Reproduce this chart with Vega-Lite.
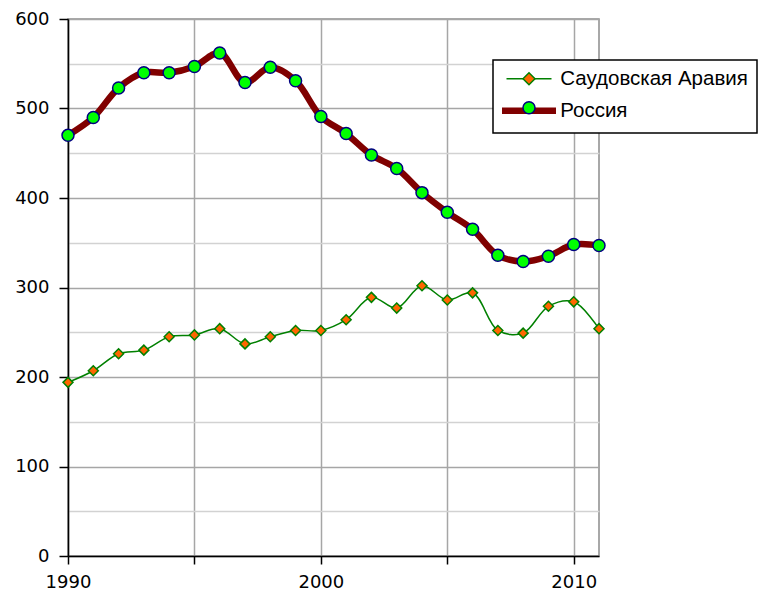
{
  "$schema": "https://vega.github.io/schema/vega-lite/v6.json",
  "width": 531,
  "height": 537,
  "autosize": {"type": "none"},
  "padding": {"left": 68, "top": 19, "right": 161, "bottom": 39},
  "background": "white",
  "config": {
    "view": {"stroke": "#8c8c8c", "strokeWidth": 1.5},
    "axis": {"labelFont": "DejaVu Sans", "labelFontSize": 17, "labelColor": "black", "title": null},
    "legend": {"strokeWidth": 1.5}
  },
  "data": {
    "values": [
      {"year": 1990, "series": "Россия", "value": 470},
      {"year": 1991, "series": "Россия", "value": 490},
      {"year": 1992, "series": "Россия", "value": 523},
      {"year": 1993, "series": "Россия", "value": 540},
      {"year": 1994, "series": "Россия", "value": 540},
      {"year": 1995, "series": "Россия", "value": 547},
      {"year": 1996, "series": "Россия", "value": 562},
      {"year": 1997, "series": "Россия", "value": 529},
      {"year": 1998, "series": "Россия", "value": 546},
      {"year": 1999, "series": "Россия", "value": 531},
      {"year": 2000, "series": "Россия", "value": 491},
      {"year": 2001, "series": "Россия", "value": 472},
      {"year": 2002, "series": "Россия", "value": 448},
      {"year": 2003, "series": "Россия", "value": 433},
      {"year": 2004, "series": "Россия", "value": 406},
      {"year": 2005, "series": "Россия", "value": 384},
      {"year": 2006, "series": "Россия", "value": 365},
      {"year": 2007, "series": "Россия", "value": 336},
      {"year": 2008, "series": "Россия", "value": 329},
      {"year": 2009, "series": "Россия", "value": 335},
      {"year": 2010, "series": "Россия", "value": 348},
      {"year": 2011, "series": "Россия", "value": 347},
      {"year": 1990, "series": "Саудовская Аравия", "value": 194},
      {"year": 1991, "series": "Саудовская Аравия", "value": 207},
      {"year": 1992, "series": "Саудовская Аравия", "value": 226},
      {"year": 1993, "series": "Саудовская Аравия", "value": 230},
      {"year": 1994, "series": "Саудовская Аравия", "value": 245},
      {"year": 1995, "series": "Саудовская Аравия", "value": 247},
      {"year": 1996, "series": "Саудовская Аравия", "value": 254},
      {"year": 1997, "series": "Саудовская Аравия", "value": 237},
      {"year": 1998, "series": "Саудовская Аравия", "value": 245},
      {"year": 1999, "series": "Саудовская Аравия", "value": 252},
      {"year": 2000, "series": "Саудовская Аравия", "value": 252},
      {"year": 2001, "series": "Саудовская Аравия", "value": 264},
      {"year": 2002, "series": "Саудовская Аравия", "value": 289},
      {"year": 2003, "series": "Саудовская Аравия", "value": 277},
      {"year": 2004, "series": "Саудовская Аравия", "value": 302},
      {"year": 2005, "series": "Саудовская Аравия", "value": 286},
      {"year": 2006, "series": "Саудовская Аравия", "value": 294},
      {"year": 2007, "series": "Саудовская Аравия", "value": 252},
      {"year": 2008, "series": "Саудовская Аравия", "value": 249},
      {"year": 2009, "series": "Саудовская Аравия", "value": 279},
      {"year": 2010, "series": "Саудовская Аравия", "value": 284},
      {"year": 2011, "series": "Саудовская Аравия", "value": 254}
    ]
  },
  "encoding": {
    "x": {
      "field": "year",
      "type": "quantitative",
      "scale": {"domain": [1990, 2011], "nice": false, "zero": false},
      "axis": {
        "values": [1990, 1995, 2000, 2005, 2010],
        "format": "d",
        "labelExpr": "datum.value % 10 == 0 ? datum.label : ''",
        "labelFont": "DejaVu Sans",
        "labelFontSize": 18,
        "labelFlush": false,
        "labelOverlap": false,
        "labelPadding": 9,
        "tickSize": 8,
        "tickColor": "black",
        "tickWidth": 1.5,
        "domainColor": "black",
        "domainWidth": 1.5,
        "grid": true,
        "gridColor": "#a6a6a6",
        "gridWidth": 1.5
      }
    },
    "y": {
      "field": "value",
      "type": "quantitative",
      "scale": {"domain": [0, 600], "nice": false},
      "axis": {
        "values": [0, 50, 100, 150, 200, 250, 300, 350, 400, 450, 500, 550, 600],
        "labelExpr": "datum.value % 100 == 0 ? datum.label : ''",
        "labelFont": "DejaVu Sans",
        "labelFontSize": 18,
        "labelOverlap": false,
        "labelPadding": 10,
        "tickSize": 9,
        "tickColor": "black",
        "tickWidth": 1.5,
        "tickOpacity": {"condition": {"test": "datum.value % 100 == 0", "value": 1}, "value": 0},
        "domainColor": "black",
        "domainWidth": 1.5,
        "grid": true,
        "gridWidth": 1.5,
        "gridColor": {"condition": {"test": "datum.value % 100 == 0", "value": "#a6a6a6"}, "value": "#d2d2d2"}
      }
    }
  },
  "layer": [
    {
      "mark": {"type": "line", "interpolate": "catmull-rom", "strokeCap": "round", "strokeJoin": "round"},
      "encoding": {
        "color": {
          "field": "series",
          "type": "nominal",
          "scale": {"domain": ["Саудовская Аравия", "Россия"], "range": ["#008000", "#800000"]},
          "legend": {
            "title": null, "orient": "none", "legendX": 425, "legendY": 41,
            "symbolType": "M-4.5,0H4.5", "symbolSize": 144,
            "padding": 8.5, "rowPadding": 8, "symbolOffset": 17.25, "labelOffset": 21,
            "labelFont": "Liberation Sans", "labelFontSize": 20.5, "labelColor": "black", "labelLimit": 400,
            "fillColor": "white", "strokeColor": "black"
          }
        },
        "strokeWidth": {
          "field": "series",
          "type": "nominal",
          "scale": {"domain": ["Саудовская Аравия", "Россия"], "range": [1.5, 6.5]},
          "legend": {
            "title": null, "orient": "none", "legendX": 425, "legendY": 41,
            "symbolType": "M-4.5,0H4.5", "symbolSize": 144,
            "padding": 8.5, "rowPadding": 8, "symbolOffset": 17.25, "labelOffset": 21,
            "labelFont": "Liberation Sans", "labelFontSize": 20.5, "labelColor": "black", "labelLimit": 400,
            "fillColor": "white", "strokeColor": "black"
          }
        }
      }
    },
    {
      "mark": {"type": "point", "filled": true, "strokeWidth": 1.5, "opacity": 1},
      "encoding": {
        "fill": {
          "field": "series", "type": "nominal", "sort": "descending",
          "scale": {"range": ["#ff6600", "#00ff00"]},
          "legend": {
            "title": null, "orient": "none", "legendX": 425, "legendY": 41,
            "symbolSize": 144, "symbolStrokeWidth": 1.5, "symbolOpacity": 1,
            "padding": 8.5, "rowPadding": 8, "symbolOffset": 17.25, "labelOffset": 21,
            "labelFont": "Liberation Sans", "labelFontSize": 20.5, "labelExpr": "''"
          }
        },
        "stroke": {
          "field": "series", "type": "nominal", "sort": "descending",
          "scale": {"range": ["#008000", "#000080"]},
          "legend": {
            "title": null, "orient": "none", "legendX": 425, "legendY": 41,
            "symbolSize": 144, "symbolStrokeWidth": 1.5, "symbolOpacity": 1,
            "padding": 8.5, "rowPadding": 8, "symbolOffset": 17.25, "labelOffset": 21,
            "labelFont": "Liberation Sans", "labelFontSize": 20.5, "labelExpr": "''"
          }
        },
        "shape": {
          "field": "series", "type": "nominal", "sort": "descending",
          "scale": {"range": ["diamond", "circle"]},
          "legend": {
            "title": null, "orient": "none", "legendX": 425, "legendY": 41,
            "symbolSize": 144, "symbolStrokeWidth": 1.5, "symbolOpacity": 1,
            "padding": 8.5, "rowPadding": 8, "symbolOffset": 17.25, "labelOffset": 21,
            "labelFont": "Liberation Sans", "labelFontSize": 20.5, "labelExpr": "''"
          }
        },
        "size": {
          "field": "series", "type": "nominal",
          "scale": {"domain": ["Саудовская Аравия", "Россия"], "range": [100, 144]},
          "legend": null
        }
      }
    }
  ]
}
